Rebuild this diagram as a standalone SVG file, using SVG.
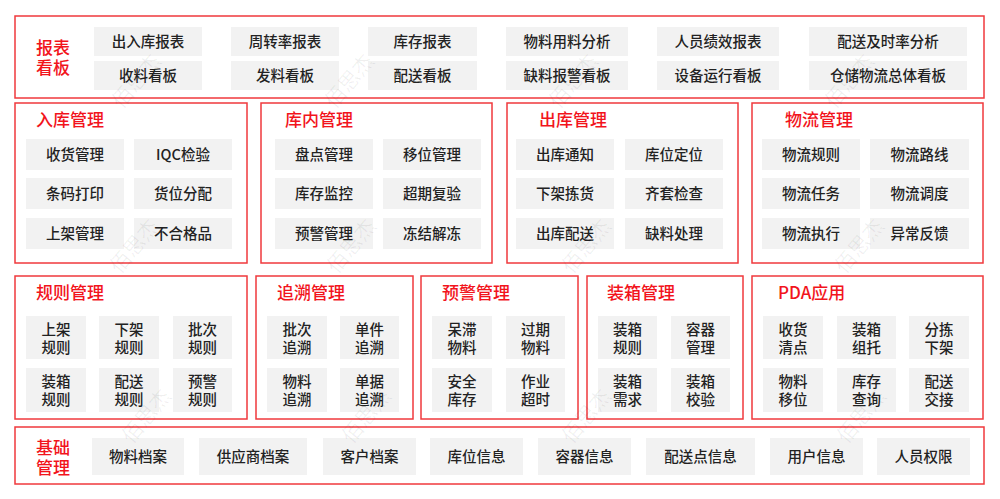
<svg xmlns="http://www.w3.org/2000/svg" width="1000" height="499" viewBox="0 0 1000 499">
<style>
.sec{fill:#fff;stroke:#f0393c;stroke-width:1.5}
.it{fill:#f2f2f2}
.t{font-family:"Noto Sans CJK SC","Noto Sans",sans-serif;font-size:14.5px;fill:#222;text-anchor:middle;dominant-baseline:central;font-weight:500}
.h{font-family:"Noto Sans CJK SC","Noto Sans",sans-serif;font-size:17px;fill:#f2141c;dominant-baseline:central;font-weight:500}
.hc{text-anchor:middle}
.wm{font-family:"Noto Sans CJK SC",sans-serif;font-size:21px;fill:#000;fill-opacity:0.06;text-anchor:middle;dominant-baseline:central}
</style>
<rect width="1000" height="499" fill="#fff"/>

<g id="report">
<rect class="sec" x="15" y="16" width="969" height="82"/>
<text class="h hc" x="53" y="46"><tspan x="53">报表</tspan><tspan x="53" dy="20">看板</tspan></text>
<rect class="it" x="94" y="27" width="108" height="29"/><text class="t" x="148" y="40.5">出入库报表</text>
<rect class="it" x="231" y="27" width="108" height="29"/><text class="t" x="285" y="40.5">周转率报表</text>
<rect class="it" x="368" y="27" width="109" height="29"/><text class="t" x="422.5" y="40.5">库存报表</text>
<rect class="it" x="506" y="27" width="122" height="29"/><text class="t" x="567" y="40.5">物料用料分析</text>
<rect class="it" x="657" y="27" width="122" height="29"/><text class="t" x="718" y="40.5">人员绩效报表</text>
<rect class="it" x="809" y="27" width="158" height="29"/><text class="t" x="888" y="40.5">配送及时率分析</text>
<rect class="it" x="94" y="61" width="108" height="29"/><text class="t" x="148" y="74.5">收料看板</text>
<rect class="it" x="231" y="61" width="108" height="29"/><text class="t" x="285" y="74.5">发料看板</text>
<rect class="it" x="368" y="61" width="109" height="29"/><text class="t" x="422.5" y="74.5">配送看板</text>
<rect class="it" x="506" y="61" width="122" height="29"/><text class="t" x="567" y="74.5">缺料报警看板</text>
<rect class="it" x="657" y="61" width="122" height="29"/><text class="t" x="718" y="74.5">设备运行看板</text>
<rect class="it" x="809" y="61" width="158" height="29"/><text class="t" x="888" y="74.5">仓储物流总体看板</text>
</g>

<g id="inbound">
<rect class="sec" x="15" y="103" width="232" height="160"/>
<text class="h" x="36" y="118">入库管理</text>
<rect class="it" x="26" y="139" width="98" height="31"/><text class="t" x="75" y="153.5">收货管理</text>
<rect class="it" x="134" y="139" width="98" height="31"/><text class="t" x="183" y="153.5">IQC检验</text>
<rect class="it" x="26" y="178" width="98" height="31"/><text class="t" x="75" y="192.5">条码打印</text>
<rect class="it" x="134" y="178" width="98" height="31"/><text class="t" x="183" y="192.5">货位分配</text>
<rect class="it" x="26" y="218" width="98" height="31"/><text class="t" x="75" y="232.5">上架管理</text>
<rect class="it" x="134" y="218" width="98" height="31"/><text class="t" x="183" y="232.5">不合格品</text>
</g>

<g id="inventory">
<rect class="sec" x="261" y="103" width="231" height="160"/>
<text class="h" x="285" y="118">库内管理</text>
<rect class="it" x="275" y="139" width="98" height="31"/><text class="t" x="324" y="153.5">盘点管理</text>
<rect class="it" x="383" y="139" width="98" height="31"/><text class="t" x="432" y="153.5">移位管理</text>
<rect class="it" x="275" y="178" width="98" height="31"/><text class="t" x="324" y="192.5">库存监控</text>
<rect class="it" x="383" y="178" width="98" height="31"/><text class="t" x="432" y="192.5">超期复验</text>
<rect class="it" x="275" y="218" width="98" height="31"/><text class="t" x="324" y="232.5">预警管理</text>
<rect class="it" x="383" y="218" width="98" height="31"/><text class="t" x="432" y="232.5">冻结解冻</text>
</g>

<g id="outbound">
<rect class="sec" x="507" y="103" width="231" height="160"/>
<text class="h" x="539" y="118">出库管理</text>
<rect class="it" x="516" y="139" width="98" height="31"/><text class="t" x="565" y="153.5">出库通知</text>
<rect class="it" x="625" y="139" width="98" height="31"/><text class="t" x="674" y="153.5">库位定位</text>
<rect class="it" x="516" y="178" width="98" height="31"/><text class="t" x="565" y="192.5">下架拣货</text>
<rect class="it" x="625" y="178" width="98" height="31"/><text class="t" x="674" y="192.5">齐套检查</text>
<rect class="it" x="516" y="218" width="98" height="31"/><text class="t" x="565" y="232.5">出库配送</text>
<rect class="it" x="625" y="218" width="98" height="31"/><text class="t" x="674" y="232.5">缺料处理</text>
</g>

<g id="logistics">
<rect class="sec" x="752" y="103" width="231" height="160"/>
<text class="h" x="785" y="118">物流管理</text>
<rect class="it" x="762" y="139" width="98" height="31"/><text class="t" x="811" y="153.5">物流规则</text>
<rect class="it" x="870" y="139" width="99" height="31"/><text class="t" x="919.5" y="153.5">物流路线</text>
<rect class="it" x="762" y="178" width="98" height="31"/><text class="t" x="811" y="192.5">物流任务</text>
<rect class="it" x="870" y="178" width="99" height="31"/><text class="t" x="919.5" y="192.5">物流调度</text>
<rect class="it" x="762" y="218" width="98" height="31"/><text class="t" x="811" y="232.5">物流执行</text>
<rect class="it" x="870" y="218" width="99" height="31"/><text class="t" x="919.5" y="232.5">异常反馈</text>
</g>

<g id="rules">
<rect class="sec" x="15" y="276" width="232" height="143"/>
<text class="h" x="36" y="291">规则管理</text>
<rect class="it" x="26" y="316" width="60" height="43"/><text class="t" x="56" y="327.5"><tspan x="56">上架</tspan><tspan x="56" dy="18">规则</tspan></text>
<rect class="it" x="99" y="316" width="60" height="43"/><text class="t" x="129" y="327.5"><tspan x="129">下架</tspan><tspan x="129" dy="18">规则</tspan></text>
<rect class="it" x="173" y="316" width="59" height="43"/><text class="t" x="202.5" y="327.5"><tspan x="202.5">批次</tspan><tspan x="202.5" dy="18">规则</tspan></text>
<rect class="it" x="26" y="368" width="60" height="44"/><text class="t" x="56" y="380"><tspan x="56">装箱</tspan><tspan x="56" dy="18">规则</tspan></text>
<rect class="it" x="99" y="368" width="60" height="44"/><text class="t" x="129" y="380"><tspan x="129">配送</tspan><tspan x="129" dy="18">规则</tspan></text>
<rect class="it" x="173" y="368" width="59" height="44"/><text class="t" x="202.5" y="380"><tspan x="202.5">预警</tspan><tspan x="202.5" dy="18">规则</tspan></text>
</g>

<g id="trace">
<rect class="sec" x="256" y="276" width="157" height="143"/>
<text class="h" x="277" y="291">追溯管理</text>
<rect class="it" x="267" y="316" width="60" height="43"/><text class="t" x="297" y="327.5"><tspan x="297">批次</tspan><tspan x="297" dy="18">追溯</tspan></text>
<rect class="it" x="340" y="316" width="59" height="43"/><text class="t" x="369.5" y="327.5"><tspan x="369.5">单件</tspan><tspan x="369.5" dy="18">追溯</tspan></text>
<rect class="it" x="267" y="368" width="60" height="44"/><text class="t" x="297" y="380"><tspan x="297">物料</tspan><tspan x="297" dy="18">追溯</tspan></text>
<rect class="it" x="340" y="368" width="59" height="44"/><text class="t" x="369.5" y="380"><tspan x="369.5">单据</tspan><tspan x="369.5" dy="18">追溯</tspan></text>
</g>

<g id="alert">
<rect class="sec" x="421" y="276" width="157" height="143"/>
<text class="h" x="442" y="291">预警管理</text>
<rect class="it" x="432" y="316" width="60" height="43"/><text class="t" x="462" y="327.5"><tspan x="462">呆滞</tspan><tspan x="462" dy="18">物料</tspan></text>
<rect class="it" x="506" y="316" width="59" height="43"/><text class="t" x="535.5" y="327.5"><tspan x="535.5">过期</tspan><tspan x="535.5" dy="18">物料</tspan></text>
<rect class="it" x="432" y="368" width="60" height="44"/><text class="t" x="462" y="380"><tspan x="462">安全</tspan><tspan x="462" dy="18">库存</tspan></text>
<rect class="it" x="506" y="368" width="59" height="44"/><text class="t" x="535.5" y="380"><tspan x="535.5">作业</tspan><tspan x="535.5" dy="18">超时</tspan></text>
</g>

<g id="packing">
<rect class="sec" x="587" y="276" width="156" height="143"/>
<text class="h" x="607" y="291">装箱管理</text>
<rect class="it" x="598" y="316" width="59" height="43"/><text class="t" x="627.5" y="327.5"><tspan x="627.5">装箱</tspan><tspan x="627.5" dy="18">规则</tspan></text>
<rect class="it" x="671" y="316" width="59" height="43"/><text class="t" x="700.5" y="327.5"><tspan x="700.5">容器</tspan><tspan x="700.5" dy="18">管理</tspan></text>
<rect class="it" x="598" y="368" width="59" height="44"/><text class="t" x="627.5" y="380"><tspan x="627.5">装箱</tspan><tspan x="627.5" dy="18">需求</tspan></text>
<rect class="it" x="671" y="368" width="59" height="44"/><text class="t" x="700.5" y="380"><tspan x="700.5">装箱</tspan><tspan x="700.5" dy="18">校验</tspan></text>
</g>

<g id="pda">
<rect class="sec" x="752" y="276" width="231" height="143"/>
<text class="h" x="778" y="291">PDA应用</text>
<rect class="it" x="763" y="316" width="60" height="43"/><text class="t" x="793" y="327.5"><tspan x="793">收货</tspan><tspan x="793" dy="18">清点</tspan></text>
<rect class="it" x="837" y="316" width="59" height="43"/><text class="t" x="866.5" y="327.5"><tspan x="866.5">装箱</tspan><tspan x="866.5" dy="18">组托</tspan></text>
<rect class="it" x="909" y="316" width="60" height="43"/><text class="t" x="939" y="327.5"><tspan x="939">分拣</tspan><tspan x="939" dy="18">下架</tspan></text>
<rect class="it" x="763" y="368" width="60" height="44"/><text class="t" x="793" y="380"><tspan x="793">物料</tspan><tspan x="793" dy="18">移位</tspan></text>
<rect class="it" x="837" y="368" width="59" height="44"/><text class="t" x="866.5" y="380"><tspan x="866.5">库存</tspan><tspan x="866.5" dy="18">查询</tspan></text>
<rect class="it" x="909" y="368" width="60" height="44"/><text class="t" x="939" y="380"><tspan x="939">配送</tspan><tspan x="939" dy="18">交接</tspan></text>
</g>

<g id="base">
<rect class="sec" x="15" y="427" width="969" height="57"/>
<text class="h hc" x="53" y="445.5"><tspan x="53">基础</tspan><tspan x="53" dy="20.5">管理</tspan></text>
<rect class="it" x="92" y="438" width="92" height="37"/><text class="t" x="138" y="455.5">物料档案</text>
<rect class="it" x="199" y="438" width="108" height="37"/><text class="t" x="253" y="455.5">供应商档案</text>
<rect class="it" x="323" y="438" width="93" height="37"/><text class="t" x="369.5" y="455.5">客户档案</text>
<rect class="it" x="430" y="438" width="93" height="37"/><text class="t" x="476.5" y="455.5">库位信息</text>
<rect class="it" x="538" y="438" width="93" height="37"/><text class="t" x="584.5" y="455.5">容器信息</text>
<rect class="it" x="646" y="438" width="109" height="37"/><text class="t" x="700.5" y="455.5">配送点信息</text>
<rect class="it" x="770" y="438" width="93" height="37"/><text class="t" x="816.5" y="455.5">用户信息</text>
<rect class="it" x="877" y="438" width="93" height="37"/><text class="t" x="923.5" y="455.5">人员权限</text>
</g>

<g id="connectors"></g>

<g id="watermark">
<text class="wm" transform="translate(135 80) rotate(-50)">佰思杰</text>
<text class="wm" transform="translate(348 80) rotate(-50)">佰思杰</text>
<text class="wm" transform="translate(572 80) rotate(-50)">佰思杰</text>
<text class="wm" transform="translate(848 80) rotate(-50)">佰思杰</text>
<text class="wm" transform="translate(133 245) rotate(-50)">佰思杰</text>
<text class="wm" transform="translate(350 245) rotate(-50)">佰思杰</text>
<text class="wm" transform="translate(585 245) rotate(-50)">佰思杰</text>
<text class="wm" transform="translate(858 245) rotate(-50)">佰思杰</text>
<text class="wm" transform="translate(145 415) rotate(-50)">佰思杰</text>
<text class="wm" transform="translate(365 415) rotate(-50)">佰思杰</text>
<text class="wm" transform="translate(585 415) rotate(-50)">佰思杰</text>
<text class="wm" transform="translate(860 415) rotate(-50)">佰思杰</text>
</g>
</svg>
